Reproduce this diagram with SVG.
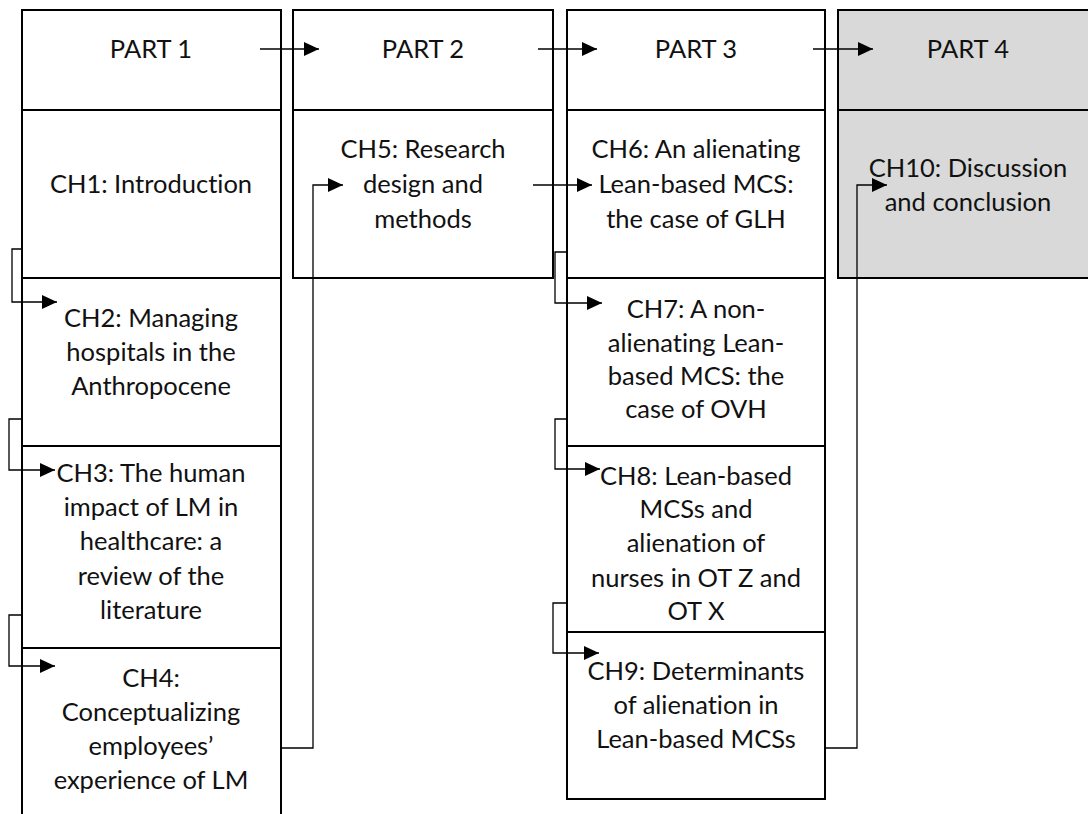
<svg xmlns="http://www.w3.org/2000/svg" width="1088" height="814" viewBox="0 0 1088 814">
<style>
.box{fill:#fff;stroke:#000;stroke-width:2}
.gray{fill:#d9d9d9;stroke:#000;stroke-width:2}
.t{font-family:Lato,"Liberation Sans",sans-serif;font-size:25.5px;fill:#111;text-anchor:middle;font-variant-ligatures:none;font-feature-settings:"liga" 0}
.c{fill:none;stroke:#000;stroke-width:1.3;marker-end:url(#ah)}
</style>
<defs>
<marker id="ah" markerUnits="userSpaceOnUse" markerWidth="15" markerHeight="14" refX="15" refY="7" orient="auto">
<path d="M0,0 L15,7 L0,14 z" fill="#000"/>
</marker>
</defs>
<rect width="1088" height="814" fill="#fff"/>

<g id="part1">
<rect class="box" x="22" y="10" width="259" height="100"/>
<text class="t" x="151" y="58">PART 1</text>
</g>
<g id="ch1">
<rect class="box" x="22" y="110" width="259" height="168"/>
<text class="t" x="151" y="193">CH1: Introduction</text>
</g>
<g id="ch2">
<rect class="box" x="22" y="278" width="259" height="168"/>
<text class="t" x="151" y="327">CH2: Managing</text>
<text class="t" x="151" y="361">hospitals in the</text>
<text class="t" x="151" y="395">Anthropocene</text>
</g>
<g id="ch3">
<rect class="box" x="22" y="446" width="259" height="202"/>
<text class="t" x="151" y="482">CH3: The human</text>
<text class="t" x="151" y="516">impact of LM in</text>
<text class="t" x="151" y="550">healthcare: a</text>
<text class="t" x="151" y="585">review of the</text>
<text class="t" x="151" y="619">literature</text>
</g>
<g id="ch4">
<path d="M22,830 V648 H281 V830" fill="#fff" stroke="#000" stroke-width="2"/>
<text class="t" x="151" y="687">CH4:</text>
<text class="t" x="151" y="721">Conceptualizing</text>
<text class="t" x="151" y="755">employees’</text>
<text class="t" x="151" y="789">experience of LM</text>
</g>

<g id="part2">
<rect class="box" x="293" y="10" width="260" height="100"/>
<text class="t" x="423" y="58">PART 2</text>
</g>
<g id="ch5">
<rect class="box" x="293" y="110" width="260" height="168"/>
<text class="t" x="423" y="158">CH5: Research</text>
<text class="t" x="423" y="193">design and</text>
<text class="t" x="423" y="228">methods</text>
</g>

<g id="part3">
<rect class="box" x="567" y="10" width="258" height="100"/>
<text class="t" x="696" y="58">PART 3</text>
</g>
<g id="ch6">
<rect class="box" x="567" y="110" width="258" height="168"/>
<text class="t" x="696" y="158">CH6: An alienating</text>
<text class="t" x="696" y="193">Lean-based MCS:</text>
<text class="t" x="696" y="228">the case of GLH</text>
</g>
<g id="ch7">
<rect class="box" x="567" y="278" width="258" height="168"/>
<text class="t" x="696" y="318">CH7: A non-</text>
<text class="t" x="696" y="352">alienating Lean-</text>
<text class="t" x="696" y="385">based MCS: the</text>
<text class="t" x="696" y="418">case of OVH</text>
</g>
<g id="ch8">
<rect class="box" x="567" y="446" width="258" height="186"/>
<text class="t" x="696" y="485">CH8: Lean-based</text>
<text class="t" x="696" y="518">MCSs and</text>
<text class="t" x="696" y="552">alienation of</text>
<text class="t" x="696" y="587">nurses in OT Z and</text>
<text class="t" x="696" y="620">OT X</text>
</g>
<g id="ch9">
<rect class="box" x="567" y="632" width="258" height="167"/>
<text class="t" x="696" y="680">CH9: Determinants</text>
<text class="t" x="696" y="714">of alienation in</text>
<text class="t" x="696" y="748">Lean-based MCSs</text>
</g>

<g id="part4">
<rect class="gray" x="838" y="10" width="260" height="100"/>
<text class="t" x="968" y="58">PART 4</text>
</g>
<g id="ch10">
<rect class="gray" x="838" y="110" width="260" height="168"/>
<text class="t" x="968" y="177">CH10: Discussion</text>
<text class="t" x="968" y="211">and conclusion</text>
</g>

<g id="connectors">
<path class="c" d="M260,49 H319"/>
<path class="c" d="M538,49 H597"/>
<path class="c" d="M813,49 H873"/>
<path class="c" d="M22,249 H12 V302 H57"/>
<path class="c" d="M22,419 H9 V470 H55"/>
<path class="c" d="M22,615 H9 V666 H55"/>
<path class="c" d="M281,748 H313 V185 H343"/>
<path class="c" d="M533,185 H592"/>
<path class="c" d="M567,252 H555 V303 H602"/>
<path class="c" d="M567,419 H555 V469 H600"/>
<path class="c" d="M567,603 H553 V653 H599"/>
<path class="c" d="M825,748 H857 V185 H887"/>
</g>
</svg>
